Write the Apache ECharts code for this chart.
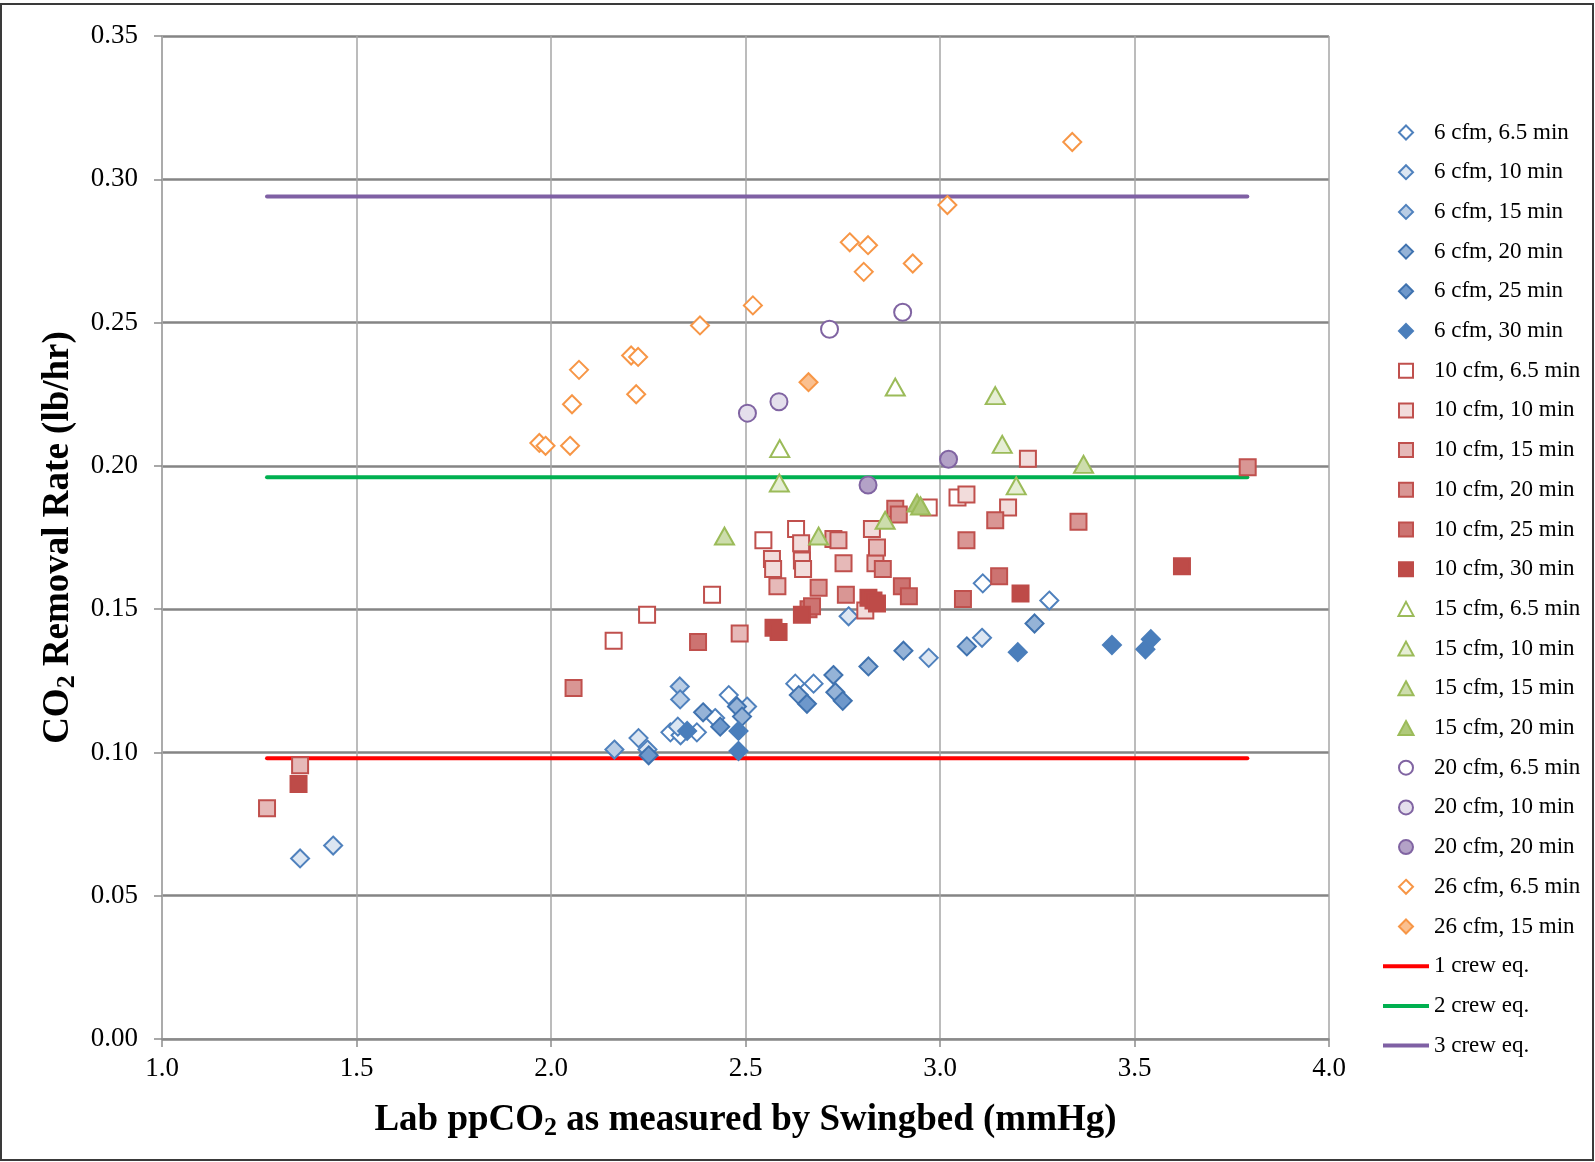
<!DOCTYPE html>
<html>
<head>
<meta charset="utf-8">
<script src="https://cdn.jsdelivr.net/npm/echarts@6/dist/echarts.min.js"></script>
<style>
  html, body { margin: 0; padding: 0; background: #fff; }
  #chart { width: 1595px; height: 1162px; }
</style>
</head>
<body>
<div id="chart"></div>
<script>
// data: [Lab ppCO2 (mmHg), CO2 removal rate (lb/hr)]
var cfm6_min6_5 = [[2.307,0.107],[2.333,0.106],[2.375,0.107],[2.422,0.112],[2.457,0.120],[2.628,0.124],[2.675,0.124],[3.110,0.159],[3.281,0.153]];
var cfm6_min10 = [[1.355,0.063],[1.440,0.0675],[2.225,0.105],[2.248,0.101],[2.326,0.109],[2.504,0.116],[2.765,0.1475],[2.971,0.133],[3.108,0.140]];
var cfm6_min15 = [[2.163,0.101],[2.331,0.123],[2.332,0.1185]];
var cfm6_min20 = [[2.391,0.114],[2.478,0.116],[2.491,0.1125],[2.637,0.120],[2.726,0.127],[2.731,0.121],[2.816,0.130],[2.906,0.1355],[3.069,0.137],[3.243,0.145]];
var cfm6_min25 = [[2.251,0.099],[2.435,0.109],[2.658,0.117],[2.750,0.118]];
var cfm6_min30 = [[2.350,0.1075],[2.482,0.1075],[2.482,0.1005],[3.200,0.135],[3.442,0.1375],[3.528,0.136],[3.542,0.1395]];

var cfm10_min6_5 = [[2.161,0.139],[2.247,0.148],[2.414,0.155],[2.546,0.174],[2.630,0.178],[2.645,0.1705],[2.971,0.1855],[3.045,0.189]];
var cfm10_min10 = [[2.568,0.1675],[2.571,0.164],[2.643,0.173],[2.645,0.167],[2.648,0.164],[2.808,0.1495],[2.825,0.178],[3.068,0.190],[3.175,0.1855],[3.226,0.2025]];
var cfm10_min15 = [[1.270,0.0805],[1.355,0.0955],[2.485,0.1415],[2.582,0.158],[2.726,0.1745],[2.739,0.174],[2.752,0.166],[2.834,0.166],[2.838,0.1715]];
var cfm10_min20 = [[2.058,0.1225],[2.688,0.1575],[2.758,0.155],[2.853,0.164],[2.885,0.185],[2.894,0.183],[3.068,0.174],[3.142,0.181],[3.356,0.1805],[3.791,0.1995]];
var cfm10_min25 = [[2.378,0.1385],[2.662,0.150],[2.671,0.151],[2.902,0.158],[2.920,0.1545],[3.059,0.1535],[3.152,0.1615]];
var cfm10_min30 = [[1.351,0.089],[2.572,0.1435],[2.585,0.142],[2.645,0.148],[2.816,0.154],[2.829,0.153],[2.838,0.152],[3.207,0.1555],[3.622,0.165]];

var cfm15_min6_5 = [[2.588,0.206],[2.885,0.2275]];
var cfm15_min10 = [[2.587,0.194],[3.142,0.2245],[3.160,0.2075],[3.196,0.193]];
var cfm15_min15 = [[2.446,0.1755],[2.688,0.1755],[2.859,0.181],[3.369,0.2005]];
var cfm15_min20 = [[2.941,0.187],[2.950,0.186]];

var cfm20_min6_5 = [[2.716,0.2477],[2.904,0.2536]];
var cfm20_min10 = [[2.505,0.2184],[2.586,0.2224]];
var cfm20_min20 = [[2.815,0.1933],[3.022,0.2023]];

var cfm26_min6_5 = [[1.970,0.208],[1.986,0.207],[2.049,0.207],[2.054,0.2215],[2.072,0.2335],[2.206,0.2385],[2.224,0.238],[2.219,0.225],[2.383,0.249],[2.519,0.256],[2.768,0.278],[2.804,0.2677],[2.815,0.277],[2.930,0.2706],[3.019,0.291],[3.340,0.313]];
var cfm26_min15 = [[2.662,0.2292]];

// crew equivalent lines
var crewNames = ['1 crew eq.', '2 crew eq.', '3 crew eq.'];
var crewRate = [0.098, 0.196, 0.294];
var crewSpan = [1.27, 3.79];

var FONT = 'Liberation Serif';

// name, data, symbol, fill, border
var scatterDefs = [
	['6 cfm, 6.5 min', cfm6_min6_5, 'diamond', '#FFFFFF', '#4F81BD'],
	['6 cfm, 10 min', cfm6_min10, 'diamond', '#DCE6F2', '#4F81BD'],
	['6 cfm, 15 min', cfm6_min15, 'diamond', '#B9CDE5', '#4F81BD'],
	['6 cfm, 20 min', cfm6_min20, 'diamond', '#95B3D7', '#3F72AF'],
	['6 cfm, 25 min', cfm6_min25, 'diamond', '#6E98CB', '#3F72AF'],
	['6 cfm, 30 min', cfm6_min30, 'diamond', '#4A7EBB', '#4A7EBB'],
	['10 cfm, 6.5 min', cfm10_min6_5, 'rect', '#FFFFFF', '#C0504D'],
	['10 cfm, 10 min', cfm10_min10, 'rect', '#F2DCDB', '#C0504D'],
	['10 cfm, 15 min', cfm10_min15, 'rect', '#E6B9B8', '#C0504D'],
	['10 cfm, 20 min', cfm10_min20, 'rect', '#D99694', '#C0504D'],
	['10 cfm, 25 min', cfm10_min25, 'rect', '#CD7371', '#C0504D'],
	['10 cfm, 30 min', cfm10_min30, 'rect', '#BE4B48', '#BE4B48'],
	['15 cfm, 6.5 min', cfm15_min6_5, 'triangle', '#FFFFFF', '#9BBB59'],
	['15 cfm, 10 min', cfm15_min10, 'triangle', '#E6EED5', '#9BBB59'],
	['15 cfm, 15 min', cfm15_min15, 'triangle', '#CDDDAC', '#9BBB59'],
	['15 cfm, 20 min', cfm15_min20, 'triangle', '#AFC97A', '#9BBB59'],
	['20 cfm, 6.5 min', cfm20_min6_5, 'circle', '#FFFFFF', '#8064A2'],
	['20 cfm, 10 min', cfm20_min10, 'circle', '#E4DFEC', '#8064A2'],
	['20 cfm, 20 min', cfm20_min20, 'circle', '#B3A2C7', '#8064A2'],
	['26 cfm, 6.5 min', cfm26_min6_5, 'diamond', '#FFFFFF', '#F79646'],
	['26 cfm, 15 min', cfm26_min15, 'diamond', '#FAC090', '#F79646']
];
var crewColors = ['#FF0000', '#00B050', '#7F60A4'];

var sizes = { diamond: 18, rect: 16, triangle: [19, 17], circle: 17 };
// legend icons as paths so they keep their shape inside the wide icon box
var legendIcons = {
	diamond: 'path://M7,0 L14,7 L7,14 L0,7 Z',
	rect: 'path://M1,1 L13,1 L13,13 L1,13 Z',
	triangle: 'path://M7,0 L14,13 L0,13 Z',
	circle: 'path://M7,0 A7,7 0 1 1 6.99,0 Z'
};

var series = [];
var legendData = [];
for (var i = 0; i < crewNames.length; i++) {
	series.push({
		name: crewNames[i],
		type: 'line',
		symbol: 'none',
		silent: true,
		z: 1,
		lineStyle: { color: crewColors[i], width: 4, cap: 'round' },
		itemStyle: { color: crewColors[i] },
		data: [[crewSpan[0], crewRate[i]], [crewSpan[1], crewRate[i]]]
	});
}
for (var j = 0; j < scatterDefs.length; j++) {
	var d = scatterDefs[j];
	legendData.push({ name: d[0], icon: legendIcons[d[2]] });
	series.push({
		name: d[0],
		type: 'scatter',
		symbol: d[2],
		symbolSize: sizes[d[2]],
		z: 3,
		itemStyle: { color: d[3], borderColor: d[4], borderWidth: 2, opacity: 1 },
		emphasis: { disabled: true },
		data: d[1]
	});
}
for (var k = 0; k < crewNames.length; k++) {
	legendData.push({
		name: crewNames[k],
		icon: 'path://M0,0 L46,0 L46,4 L0,4 Z',
		itemStyle: { color: crewColors[k], borderWidth: 0 }
	});
}

var chart = echarts.init(document.getElementById('chart'));
chart.setOption({
	backgroundColor: '#FFFFFF',
	animation: false,
	grid: { left: 162, right: 266, top: 36, bottom: 123 },
	legend: {
		orient: 'vertical',
		left: 1378,
		top: 116,
		itemWidth: 46,
		itemHeight: 14,
		itemGap: 16.7,
		selectedMode: false,
		data: legendData,
		textStyle: { fontFamily: FONT, fontSize: 23, lineHeight: 22, color: '#000' }
	},
	xAxis: {
		type: 'value',
		min: 1,
		max: 4,
		interval: 0.5,
		name: '{b|Lab ppCO}{s|2}{b| as measured by Swingbed (mmHg)}',
		nameLocation: 'middle',
		nameGap: 60,
		nameTextStyle: {
			rich: {
				b: { fontFamily: FONT, fontSize: 37, fontWeight: 'bold', color: '#000' },
				s: { fontFamily: FONT, fontSize: 26, fontWeight: 'bold', color: '#000', padding: [16, 0, 0, 0] }
			}
		},
		axisLine: { show: true, lineStyle: { color: '#8C8C8C', width: 1.5 } },
		axisTick: { show: true, length: 8, lineStyle: { color: '#8C8C8C', width: 1.5 } },
		splitLine: { show: true, lineStyle: { color: '#A6A6A6', width: 1.5 } },
		axisLabel: {
			margin: 16,
			fontFamily: FONT,
			fontSize: 27,
			color: '#000',
			formatter: function (v) { return v.toFixed(1); }
		}
	},
	yAxis: {
		type: 'value',
		min: 0,
		max: 0.35,
		interval: 0.05,
		name: '{b|CO}{s|2}{b| Removal Rate (lb/hr)}',
		nameLocation: 'middle',
		nameGap: 73,
		nameRotate: 90,
		nameTextStyle: {
			rich: {
				b: { fontFamily: FONT, fontSize: 37, fontWeight: 'bold', color: '#000' },
				s: { fontFamily: FONT, fontSize: 26, fontWeight: 'bold', color: '#000', padding: [16, 0, 0, 0] }
			}
		},
		axisLine: { show: true, lineStyle: { color: '#A6A6A6', width: 1.5 } },
		axisTick: { show: true, length: 8, lineStyle: { color: '#8C8C8C', width: 1.5 } },
		splitLine: { show: true, lineStyle: { color: '#858585', width: 2.5 } },
		axisLabel: {
			margin: 24,
			fontFamily: FONT,
			fontSize: 27,
			color: '#000',
			formatter: function (v) { return v.toFixed(2); }
		}
	},
	graphic: [{
		type: 'rect',
		silent: true,
		shape: { x: 1, y: 4, width: 1592, height: 1156 },
		style: { fill: 'none', stroke: '#3A3A3A', lineWidth: 2 }
	}],
	series: series
});
</script>
</body>
</html>
